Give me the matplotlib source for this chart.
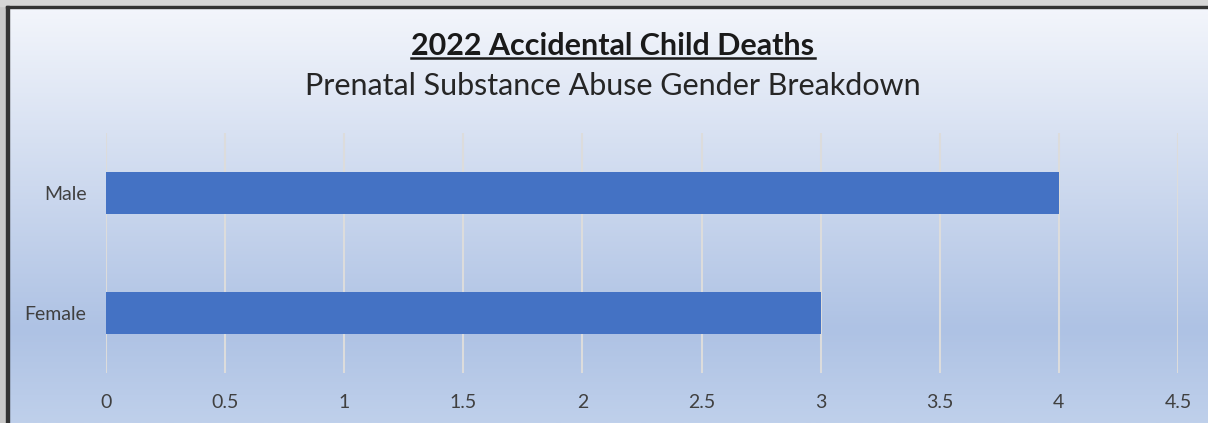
### RECREATE THE GENDER BREAKDOWN BAR CHART ###
### IMPORT LIBRARIES ###
import numpy as np
import matplotlib
matplotlib.use('Agg')
import matplotlib.pyplot as plt
from matplotlib.colors import LinearSegmentedColormap
from matplotlib.patches import Rectangle

### DATA ###
categories = ['Female', 'Male']
deaths = [3, 4]
x_ticks = [0, 0.5, 1, 1.5, 2, 2.5, 3, 3.5, 4, 4.5]
x_tick_labels = ['0', '0.5', '1', '1.5', '2', '2.5', '3', '3.5', '4', '4.5']
title = '2022 Accidental Child Deaths'
subtitle = 'Prenatal Substance Abuse Gender Breakdown'

W, H = 1208, 423
plt.rcParams['font.family'] = ['Lato', 'DejaVu Sans']

fig = plt.figure(figsize=(W / 100, H / 100), dpi=100)

# Background gradient (whole figure)
bg = fig.add_axes([0, 0, 1, 1])
bg.set_axis_off()
cmap = LinearSegmentedColormap.from_list(
    'bg', [(0.0, '#f5f7fc'), (0.78, '#aec2e4'), (1.0, '#bfd0eb')])
grad = np.linspace(0, 1, 256).reshape(-1, 1)
bg.imshow(grad, aspect='auto', cmap=cmap, extent=[0, 1, 0, 1], origin='upper')
bg.set_xlim(0, 1)
bg.set_ylim(0, 1)

# Outer grey frame and dark border line
bg.add_patch(Rectangle((0, 0), 7 / W, 1, color='#c9c9c9', zorder=3))
bg.add_patch(Rectangle((0, 1 - 6 / H), 1, 6 / H, color='#d6d6d6', zorder=3))
bg.add_patch(Rectangle((6 / W, 0), 2.5 / W, 1 - 6 / H, color='#333333', zorder=4))
bg.add_patch(Rectangle((6 / W, 1 - 8.5 / H), 1, 2.5 / H, color='#333333', zorder=4))

# Bar chart
ax = fig.add_axes([106 / W, 1 - 373 / H, (1178 - 106) / W, 240 / H])
ax.patch.set_alpha(0)
ypos = np.arange(len(categories))
ax.barh(ypos, deaths, height=0.35, color='#4472c4', zorder=3)
ax.set_xlim(0, 4.5)
ax.set_ylim(-0.5, 1.5)
ax.set_xticks(x_ticks)
ax.set_xticklabels(x_tick_labels)
ax.set_yticks(ypos)
ax.set_yticklabels(categories)
ax.grid(axis='x', color='#dcdcdc', linewidth=1.5, zorder=0)
for s in ax.spines.values():
    s.set_visible(False)
ax.tick_params(axis='x', length=0, pad=15, labelsize=14, labelcolor='#404040')
ax.tick_params(axis='y', length=0, pad=14, labelsize=14, labelcolor='#404040')

# Titles
t = fig.text(613 / W, 1 - 46 / H, title, ha='center', va='center',
             fontsize=22, fontweight='bold', color='#1a1a1a')
fig.text(613 / W, 1 - 86 / H, subtitle, ha='center', va='center',
         fontsize=22, color='#262626')

# Underline the title
fig.canvas.draw()
bb = t.get_window_extent()
fig.add_artist(plt.Line2D([bb.x0 / W, bb.x1 / W], [1 - 58 / H, 1 - 58 / H],
                          color='#1a1a1a', linewidth=1.8))

fig.savefig('out.png', dpi=100)
